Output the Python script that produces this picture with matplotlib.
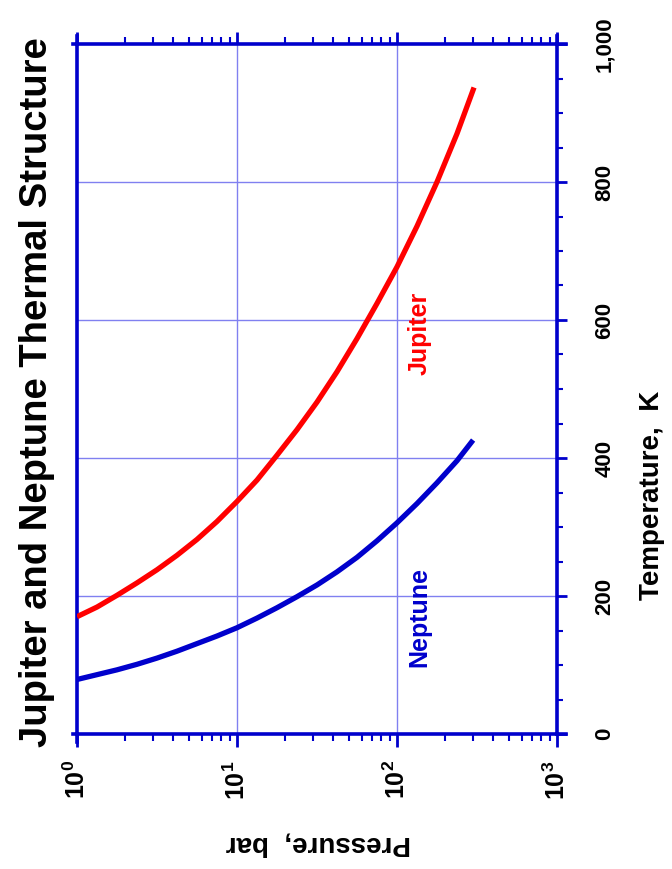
import matplotlib
matplotlib.use("Agg")
import matplotlib.pyplot as plt
from matplotlib.ticker import LogLocator, MultipleLocator, FixedLocator, NullFormatter

plt.rcParams['font.family'] = ['Liberation Sans', 'DejaVu Sans']
plt.rcParams['mathtext.fontset'] = 'custom'
plt.rcParams['mathtext.rm'] = 'Liberation Sans:bold'
plt.rcParams['mathtext.bf'] = 'Liberation Sans:bold'

# Temperature profiles along pressure (bar -> K)
jupiter_p = [1.000, 1.334, 1.778, 2.371, 3.162, 4.217, 5.623, 7.499, 10.00, 13.34,
             17.78, 23.71, 31.62, 42.17, 56.23, 74.99, 100.0, 133.4, 177.8, 237.1, 303.0]
jupiter_t = [170, 184, 201, 219, 238, 259, 282, 308, 337, 368,
             404, 441, 481, 525, 573, 624, 677, 736, 800, 870, 937]

neptune_p = [1.000, 1.334, 1.778, 2.371, 3.162, 4.217, 5.623, 7.499, 10.00, 13.34,
             17.78, 23.71, 31.62, 42.17, 56.23, 74.99, 100.0, 133.4, 177.8, 237.1, 299.0]
neptune_t = [79, 86, 93, 101, 110, 120, 131, 142, 154, 168,
             183, 199, 216, 235, 256, 280, 306, 334, 364, 396, 426]

pressure_ticks = [1, 10, 100, 1000]
pressure_labels = [r'$\mathbf{10^{0}}$', r'$\mathbf{10^{1}}$', r'$\mathbf{10^{2}}$', r'$\mathbf{10^{3}}$']
temp_ticks = [0, 200, 400, 600, 800, 1000]
temp_labels = ['0', '200', '400', '600', '800', '1,000']

AXIS_BLUE = '#0000cc'
GRID_BLUE = '#8080f0'

fig = plt.figure(figsize=(6.72, 8.69), dpi=100)
W, H = 672, 869
ax = fig.add_axes([77 / W, 1 - 734 / H, (557 - 77) / W, (734 - 44) / H])

ax.set_xscale('log')
ax.set_xlim(1, 1000)
ax.set_ylim(0, 1000)

ax.plot(jupiter_p, jupiter_t, color='#ff0000', lw=3.8, solid_capstyle='butt', zorder=3)
ax.plot(neptune_p, neptune_t, color=AXIS_BLUE, lw=3.8, solid_capstyle='butt', zorder=3)

ax.text(138, 581, 'Jupiter', color='#ff0000', rotation=90, fontsize=18,
        fontweight='bold', ha='center', va='center')
ax.text(138, 170, 'Neptune', color=AXIS_BLUE, rotation=90, fontsize=18,
        fontweight='bold', ha='center', va='center')

# grid
for p in pressure_ticks[1:-1]:
    ax.axvline(p, color=GRID_BLUE, lw=1.0, zorder=1)
for t in temp_ticks[1:-1]:
    ax.axhline(t, color=GRID_BLUE, lw=1.0, zorder=1)

# spines
for s in ax.spines.values():
    s.set_color(AXIS_BLUE)
    s.set_linewidth(2.6)

# pressure ticks (bottom + top)
ax.xaxis.set_major_locator(FixedLocator(pressure_ticks))
ax.xaxis.set_minor_locator(LogLocator(base=10, subs=range(2, 10)))
ax.xaxis.set_minor_formatter(NullFormatter())
ax.set_xticklabels(pressure_labels, rotation=90, fontsize=18)
ax.tick_params(axis='x', which='major', direction='out', length=9, width=2,
               color=AXIS_BLUE, top=True, bottom=True, pad=10)
ax.tick_params(axis='x', which='minor', direction='out', length=5, width=1.5,
               color=AXIS_BLUE, top=True, bottom=True)

# temperature ticks on the right
ax.yaxis.set_major_locator(FixedLocator(temp_ticks))
ax.yaxis.set_minor_locator(MultipleLocator(50))
ax.yaxis.tick_right()
ax.set_yticklabels(temp_labels, rotation=90, fontsize=16, fontweight='bold',
                   va='center')
ax.tick_params(axis='y', which='major', direction='out', length=7, width=2,
               color=AXIS_BLUE, left=False, right=True, pad=20)
ax.tick_params(axis='y', which='minor', direction='out', length=4, width=1.5,
               color=AXIS_BLUE, left=False, right=True)

# small overhang of the frame lines past the corners
tr = ax.transAxes
ax.plot([1.0, 1.018], [1.0, 1.0], transform=tr, color=AXIS_BLUE, lw=2.6, clip_on=False)
ax.plot([1.0, 1.0], [1.0, 1.012], transform=tr, color=AXIS_BLUE, lw=2.6, clip_on=False)
ax.plot([1.0, 1.018], [0.0, 0.0], transform=tr, color=AXIS_BLUE, lw=2.6, clip_on=False)
ax.plot([0.0, 0.0], [1.0, 1.012], transform=tr, color=AXIS_BLUE, lw=2.6, clip_on=False)
ax.plot([0.0, 0.0], [0.0, -0.012], transform=tr, color=AXIS_BLUE, lw=2.6, clip_on=False)
ax.plot([0.0, -0.008], [0.0, 0.0], transform=tr, color=AXIS_BLUE, lw=2.6, clip_on=False)
ax.plot([0.0, -0.008], [1.0, 1.0], transform=tr, color=AXIS_BLUE, lw=2.6, clip_on=False)

fig.text(37 / W, 1 - 392 / H, 'Jupiter and Neptune Thermal Structure', rotation=90,
         fontsize=27.5, fontweight='bold', ha='center', va='center')
fig.text(652 / W, 1 - 495 / H, 'Temperature,  K', rotation=90,
         fontsize=20, fontweight='bold', ha='center', va='center')
fig.text(318 / W, 1 - 843 / H, 'Pressure,  bar', rotation=180,
         fontsize=20, fontweight='bold', ha='center', va='center')

fig.savefig('out.png', dpi=100, facecolor='white')
